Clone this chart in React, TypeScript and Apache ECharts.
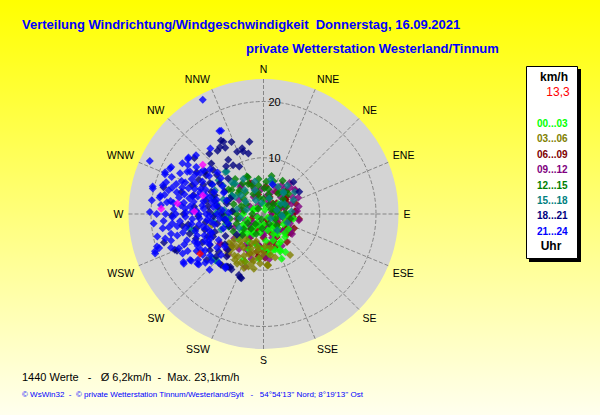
import React, { useEffect, useRef } from 'react';
import * as echarts from 'echarts';

// Compass directions (angle axis tick labels, every 22.5°)
const DIRECTIONS = ['N', 'NNE', 'NE', 'ENE', 'E', 'ESE', 'SE', 'SSE', 'S', 'SSW', 'SW', 'WSW', 'W', 'WNW', 'NW', 'NNW'];
// Radius axis (km/h) labels shown
const SPEED_LABELS = [10, 20];
const SPEED_MAX = 24;

// Time slots (legend) and their colours
const SLOTS = ['00...03', '03...06', '06...09', '09...12', '12...15', '15...18', '18...21', '21...24'];
const SLOT_COLORS = ['#00FF00', '#808000', '#800000', '#800080', '#008000', '#008080', '#000080', '#0000FF'];

// Each point: [speed km/h, direction °]
const h0003 = [
  [1.8, 180], [4.0, 153], [4.0, 207], [4.0, 117], [4.0, 243], [6.3, 172], [6.8, 203], [6.0, 153], [5.2, 121], [7.8, 150],
  [6.3, 225], [8.0, 186], [2.0, 63], [2.0, 297], [1.8, 0], [3.2, 56], [3.6, 270], [4.4, 90], [8.6, 158], [5.4, 99],
  [5.6, 137], [7.0, 155], [6.7, 162], [0.8, 20], [5.1, 132], [7.3, 156], [6.6, 165], [9.1, 201], [1.9, 291], [8.9, 204],
  [6.6, 250], [6.9, 261], [2.5, 140], [3.0, 165], [3.4, 190], [2.8, 215], [1.2, 240], [2.2, 110], [4.8, 175], [5.5, 195],
  [4.6, 220], [3.6, 135], [5.0, 160], [2.6, 85], [3.8, 100], [5.6, 210], [4.2, 235], [1.5, 310], [3.0, 250], [2.4, 190],
  [3.0, 150], [4.4, 145], [5.8, 148], [6.2, 178], [7.2, 172], [3.8, 215], [4.9, 230], [2.0, 215], [1.0, 130], [6.0, 188],
];
const h0306 = [
  [8.1, 224], [8.8, 211], [9.1, 201], [9.2, 175], [8.7, 147], [5.8, 177], [5.6, 202], [6.4, 220], [9.6, 212], [8.8, 184],
  [9.7, 196], [9.1, 175], [10.0, 208], [9.4, 258], [11.7, 219], [9.1, 176], [6.0, 190], [6.5, 200], [7.0, 210], [7.5, 220],
  [8.0, 230], [6.8, 215], [7.2, 195], [7.8, 185], [8.4, 192], [8.2, 205], [7.6, 200], [9.0, 215], [8.5, 222], [6.2, 230],
  [5.5, 215], [7.0, 180], [6.6, 188], [9.5, 205], [10.2, 200], [8.9, 193], [7.3, 228], [9.3, 222], [6.1, 168], [7.4, 170],
  [5.0, 195], [8.0, 165], [9.9, 190],
];
const h0609 = [
  [4.6, 56], [5.7, 86], [3.1, 122], [4.8, 122], [4.0, 149], [7.6, 187], [7.4, 199], [5.2, 160], [4.7, 57], [4.1, 90],
  [4.6, 124], [5.8, 339], [6.8, 190], [6.0, 336], [5.1, 53], [5.6, 85], [4.7, 150], [5.8, 186], [3.5, 100], [2.8, 140],
  [2.0, 170], [3.0, 200], [4.2, 180], [5.5, 170], [6.2, 160], [6.5, 140], [5.5, 130], [3.8, 70], [2.5, 40], [3.2, 20],
  [4.5, 30], [1.5, 100], [2.2, 250], [3.5, 220], [5.0, 210], [6.3, 205], [4.3, 110], [5.0, 100], [6.0, 115], [2.8, 75],
  [1.2, 150], [7.0, 175], [3.6, 345], [4.9, 5], [6.0, 72], [5.2, 95], [6.4, 98], [5.9, 125], [4.0, 135], [3.5, 160],
  [6.6, 180], [7.8, 178], [5.4, 195], [4.6, 65], [3.0, 50], [5.8, 45],
];
const h0912 = [
  [7.0, 54], [6.3, 320], [8.1, 173], [6.5, 322], [9.3, 236], [9.1, 226], [7.1, 52], [9.4, 235], [9.6, 221], [9.9, 199],
  [4.3, 45], [3.0, 60], [4.0, 90], [2.5, 120], [3.6, 140], [4.5, 160], [2.0, 200], [3.2, 230], [2.8, 300], [3.5, 330],
  [4.8, 340], [4.1, 20], [1.5, 80], [5.0, 110], [4.6, 130], [1.2, 250], [2.2, 20], [3.0, 100], [5.3, 70], [5.8, 40],
  [6.0, 60], [4.0, 280], [5.0, 300], [4.5, 210], [5.5, 190], [6.0, 170], [6.5, 150], [3.8, 180], [7.0, 205], [7.6, 215],
  [6.8, 230], [5.8, 245], [4.8, 260], [7.5, 180], [6.2, 125], [5.1, 95], [2.6, 160], [1.8, 330], [3.3, 10], [4.4, 355],
  [6.1, 32], [6.4, 78], [3.4, 250], [8.3, 195], [8.0, 225], [6.8, 65], [6.0, 85], [6.4, 100], [5.6, 120], [4.0, 145],
  [3.2, 175], [2.4, 230], [5.4, 225], [6.2, 210], [3.9, 75], [2.6, 55], [6.7, 45], [7.2, 40], [5.2, 25],
];
const h1215 = [
  [7.3, 336], [5.2, 350], [4.6, 2], [4.5, 36], [4.3, 72], [3.8, 88], [7.1, 307], [7.6, 305], [5.6, 288], [4.5, 259],
  [4.4, 307], [6.0, 333], [4.0, 333], [1.3, 315], [2.7, 0], [4.5, 11], [2.5, 45], [2.7, 90], [6.5, 254], [4.4, 233],
  [2.3, 219], [2.3, 113], [4.4, 53], [8.0, 321], [6.3, 352], [6.1, 17], [5.7, 51], [7.1, 337], [4.0, 62], [4.9, 36],
  [3.5, 300], [5.0, 320], [2.0, 270], [3.2, 240], [5.5, 275], [6.8, 290], [6.0, 315], [3.0, 345], [1.8, 30], [3.3, 65],
  [2.0, 150], [3.8, 200], [5.3, 225], [6.2, 240], [7.0, 268], [4.2, 290], [3.6, 15], [5.8, 5], [6.9, 12], [1.0, 200],
  [4.8, 100], [3.1, 130], [6.5, 300], [5.8, 310], [7.5, 315], [6.6, 326], [5.4, 338], [4.0, 345], [3.0, 20], [6.8, 30],
  [5.5, 45], [2.2, 75], [3.5, 280], [4.8, 270], [6.0, 262], [5.1, 250], [3.4, 220], [2.6, 185], [1.6, 60],
];
const h1518 = [
  [10.1, 318], [10.0, 319], [7.0, 276], [8.1, 275], [13.4, 259], [11.9, 226], [7.4, 317], [12.8, 257], [10.0, 307], [9.6, 296],
  [5.5, 28], [5.3, 42], [3.2, 93], [8.0, 315], [5.4, 322], [5.9, 301], [5.1, 44], [3.4, 98], [3.6, 59], [2.5, 73],
  [11.7, 225], [8.5, 282], [7.6, 290], [6.5, 300], [6.2, 265], [4.8, 280], [3.9, 305], [2.8, 330], [4.5, 340], [6.0, 345],
  [3.0, 20], [1.5, 120], [4.2, 65], [6.8, 55], [9.0, 262], [8.0, 250], [5.0, 240], [12.0, 230], [6.3, 12], [7.2, 330],
  [10.6, 300], [7.3, 265], [6.6, 40], [5.9, 65], [5.0, 85], [4.5, 110], [3.8, 140], [6.4, 300], [5.2, 310], [8.8, 305],
  [9.4, 288], [8.6, 270], [7.0, 255], [4.2, 260], [3.1, 285], [2.0, 350], [5.7, 15],
];
const h1821 = [
  [15.1, 330], [14.7, 331], [13.6, 330], [12.3, 342], [11.7, 342], [11.1, 346], [12.0, 337], [11.5, 327], [10.2, 328], [10.8, 322],
  [12.9, 314], [15.8, 309], [14.4, 318], [9.5, 333], [12.8, 306], [12.3, 304], [11.9, 296], [9.3, 291], [9.9, 278], [8.9, 267],
  [10.8, 255], [9.8, 246], [11.0, 240], [11.5, 236], [11.3, 228], [10.0, 221], [11.1, 212], [11.4, 210], [11.7, 202], [12.0, 200],
  [16.3, 269], [18.4, 254], [17.0, 248], [18.4, 285], [15.1, 285], [16.7, 247], [13.0, 231], [11.4, 215], [12.1, 199], [8.9, 315],
  [6.8, 286], [11.3, 214], [7.8, 43], [7.5, 58], [7.5, 270], [8.2, 279], [9.0, 285], [10.1, 293], [11.0, 300], [10.5, 283],
  [9.6, 272], [10.4, 262], [11.6, 268], [12.4, 276], [12.9, 285], [13.7, 292], [8.4, 258], [9.2, 250], [7.8, 240], [8.7, 232],
  [6.5, 250], [6.0, 232], [13.5, 262], [14.2, 270], [12.2, 258], [10.7, 248], [14.0, 302], [13.0, 298], [14.2, 327], [13.9, 324],
  [14.0, 336], [13.1, 349], [11.9, 311], [7.0, 262], [8.0, 300], [9.5, 305], [10.8, 310], [6.5, 295], [5.6, 275], [12.8, 250],
  [13.6, 255], [14.6, 262], [12.0, 245], [9.0, 225], [10.4, 230], [11.8, 220],
];
const h2124 = [
  [23.0, 332], [22.3, 295], [20.3, 284], [20.2, 283], [19.0, 293], [18.9, 292], [18.5, 296], [18.4, 297], [18.6, 286], [18.7, 279],
  [18.6, 280], [16.1, 277], [20.5, 250], [19.5, 252], [20.4, 251], [19.8, 253], [16.6, 239], [15.4, 238], [14.6, 232], [16.7, 238],
  [15.3, 237], [13.8, 224], [11.8, 215], [16.0, 244], [14.7, 233], [16.7, 307], [15.9, 311], [16.6, 306], [14.6, 305], [13.2, 306],
  [15.0, 321], [16.7, 332], [16.6, 333], [15.5, 299], [17.0, 302], [9.5, 262], [10.2, 270], [11.0, 278], [12.1, 285], [13.0, 290],
  [14.2, 296], [15.1, 300], [16.0, 303], [13.5, 282], [14.8, 276], [15.6, 270], [16.3, 264], [14.0, 260], [12.5, 256], [11.2, 250],
  [12.8, 246], [14.4, 251], [15.8, 256], [17.0, 262], [17.4, 270], [16.7, 278], [16.9, 286], [15.2, 288], [13.8, 271], [12.7, 266],
  [11.6, 261], [10.4, 256], [9.8, 250], [10.8, 244], [9.0, 278], [10.0, 287], [11.2, 293], [12.3, 298], [13.4, 303], [11.8, 305],
  [10.5, 300], [9.6, 294], [8.7, 287], [8.2, 270], [13.1, 276], [14.5, 284], [15.7, 292], [16.5, 296], [17.6, 292], [17.9, 281],
  [18.3, 275], [17.1, 254], [16.2, 248], [15.0, 244], [13.6, 241], [12.2, 238], [11.4, 266], [12.0, 273], [10.9, 282], [12.9, 262],
  [14.9, 265], [16.0, 273], [13.3, 294], [14.1, 289], [12.6, 280], [13.9, 268], [15.3, 281], [16.4, 289], [11.9, 289], [10.7, 275],
  [9.4, 283], [8.9, 258], [10.1, 264], [11.5, 270], [14.3, 278], [15.9, 284], [17.3, 277], [12.4, 252], [13.2, 248], [14.7, 257],
  [15.5, 262], [11.0, 241], [12.0, 232], [13.0, 236], [10.3, 246], [9.2, 240], [7.6, 250], [6.8, 262], [7.4, 275], [7.0, 290],
  [8.0, 298], [8.8, 304], [9.9, 310], [11.0, 312], [12.4, 310], [5.5, 17], [11.6, 216], [19.6, 265], [19.0, 270], [18.1, 262],
  [20.0, 277], [20.2, 271], [19.3, 258], [17.8, 266], [15.1, 249], [12.5, 228], [13.5, 230], [14.2, 235], [11.8, 222], [10.5, 226],
  [12.8, 240], [10.2, 234], [9.0, 230], [13.0, 244], [11.5, 245], [16.8, 258], [17.5, 250], [18.0, 256], [16.2, 268], [14.0, 274],
  [12.7, 272], [11.0, 258], [10.0, 252], [9.6, 268], [8.5, 280], [7.8, 264], [6.2, 272], [6.5, 255], [17.4, 284], [18.2, 288],
  [15.0, 292], [14.0, 300], [13.0, 284], [12.0, 292], [10.8, 288],
];
const SLOT_DATA = [h0003, h0306, h0609, h0912, h1215, h1518, h1821, h2124];

// Extra highlighted values (magenta) and the current value (red, 13,3 km/h)
const highlighted = [[18.2, 273], [13.9, 309], [11.3, 287], [15.4, 277], [12.3, 272]];
const CURRENT_SPEED = 13.3;
const current = [[CURRENT_SPEED, 238]];

const TITLE = 'Verteilung Windrichtung/Windgeschwindigkeit  Donnerstag, 16.09.2021';
const SUBTITLE = 'private Wetterstation Westerland/Tinnum';
const STATS = '1440 Werte   -   Ø 6,2km/h  -  Max. 23,1km/h';
const FOOTER = "© WsWin32  -  © private Wetterstation Tinnum/Westerland/Sylt   -   54°54'13'' Nord; 8°19'13'' Ost";

const FONT = "'Liberation Sans', Arial, sans-serif";
const CENTER = [263.5, 214];
const RADIUS = 135;

export default function App() {
  const ref = useRef<HTMLDivElement>(null);

  useEffect(() => {
    if (!ref.current) return;
    const chart = echarts.init(ref.current, null, { renderer: 'svg' });

    // drawing order of the time slots (later ones lie on top)
    const drawOrder = [2, 3, 0, 1, 4, 5, 6, 7];
    const series: any[] = drawOrder.map((i) => ({
      name: SLOTS[i],
      type: 'scatter',
      coordinateSystem: 'polar',
      symbol: 'diamond',
      symbolSize: 8,
      itemStyle: { color: SLOT_COLORS[i] },
      data: SLOT_DATA[i],
      silent: true,
    }));
    series.push({
      name: 'extra',
      type: 'scatter',
      coordinateSystem: 'polar',
      symbol: 'diamond',
      symbolSize: 8,
      itemStyle: { color: '#FF00FF' },
      data: highlighted,
      silent: true,
    });
    series.push({
      name: 'aktuell',
      type: 'scatter',
      coordinateSystem: 'polar',
      symbol: 'diamond',
      symbolSize: 8,
      itemStyle: { color: '#FF0000' },
      data: current,
      silent: true,
    });

    const dash = { color: '#858585', width: 1, type: 'dashed', dashOffset: 0 };

    chart.setOption({
      animation: false,
      backgroundColor: 'transparent',
      title: [
        { text: TITLE, left: 22, top: 18, padding: 0, textStyle: { color: '#0000FF', fontSize: 13, fontWeight: 'bold', fontFamily: FONT } },
        { text: SUBTITLE, left: 246, top: 42, padding: 0, textStyle: { color: '#0000FF', fontSize: 13, fontWeight: 'bold', fontFamily: FONT } },
        { text: STATS, left: 22, top: 371, padding: 0, textStyle: { color: '#000000', fontSize: 11, fontWeight: 'normal', fontFamily: FONT } },
        { text: FOOTER, left: 22, top: 390, padding: 0, textStyle: { color: '#0000FF', fontSize: 8, fontWeight: 'normal', fontFamily: FONT } },
      ],
      legend: {
        orient: 'vertical',
        left: 532,
        top: 118,
        padding: 0,
        itemWidth: 0,
        itemHeight: 11,
        itemGap: 4.4,
        icon: 'rect',
        itemStyle: { opacity: 0 },
        selectedMode: false,
        textStyle: { fontSize: 10, fontWeight: 'bold', fontFamily: FONT, lineHeight: 11 },
        data: SLOTS.map((s, i) => ({ name: s, textStyle: { color: SLOT_COLORS[i] } })),
      },
      polar: { center: CENTER, radius: RADIUS },
      angleAxis: {
        type: 'value',
        min: 0,
        max: 360,
        interval: 22.5,
        startAngle: 90,
        clockwise: true,
        axisLine: { show: false },
        axisTick: { show: false },
        axisLabel: {
          margin: 5,
          color: '#000',
          fontSize: 10.5,
          fontFamily: FONT,
          formatter: (v: number) => DIRECTIONS[Math.round(v / 22.5) % 16],
        },
        splitLine: { show: true, lineStyle: dash },
        splitArea: { show: false },
      },
      radiusAxis: {
        type: 'value',
        min: 0,
        max: SPEED_MAX,
        interval: 10,
        axisLine: { show: false },
        axisTick: { show: false },
        axisLabel: {
          margin: -5,
          align: 'left',
          verticalAlign: 'middle',
          padding: [0, 0, 4, 0],
          color: '#000',
          fontSize: 11,
          fontFamily: FONT,
          formatter: (v: number) => (SPEED_LABELS.includes(v) ? String(v) : ''),
        },
        splitLine: {
          show: true,
          lineStyle: { ...dash, color: ['#858585', '#858585', '#858585', 'rgba(0,0,0,0)'] },
        },
        splitArea: { show: false },
      },
      graphic: [
        { type: 'circle', z: -10, silent: true, shape: { cx: CENTER[0], cy: CENTER[1], r: RADIUS }, style: { fill: '#D4D4D4' } },
        { type: 'rect', z: 1, silent: true, shape: { x: 529, y: 69, width: 52, height: 193 }, style: { fill: '#000000' } },
        { type: 'rect', z: 2, silent: true, shape: { x: 526.5, y: 66.5, width: 51, height: 192 }, style: { fill: '#FFFFFF', stroke: '#000000', lineWidth: 1 } },
        { type: 'text', z: 3, silent: true, x: 554, y: 77, style: { text: 'km/h', fill: '#000', font: `bold 12px ${FONT}`, textAlign: 'center', textVerticalAlign: 'middle' } },
        { type: 'text', z: 3, silent: true, x: 558, y: 92, style: { text: String(CURRENT_SPEED).replace('.', ','), fill: '#FF0000', font: `12px ${FONT}`, textAlign: 'center', textVerticalAlign: 'middle' } },
        { type: 'text', z: 3, silent: true, x: 551, y: 246, style: { text: 'Uhr', fill: '#000', font: `bold 12px ${FONT}`, textAlign: 'center', textVerticalAlign: 'middle' } },
      ],
      series,
    });

    return () => chart.dispose();
  }, []);

  return (
    <div
      ref={ref}
      style={{
        position: 'absolute',
        left: 0,
        top: 0,
        width: 600,
        height: 415,
        background: 'linear-gradient(to bottom, #FFFF00 0%, #FFFFEE 100%)',
      }}
    />
  );
}
